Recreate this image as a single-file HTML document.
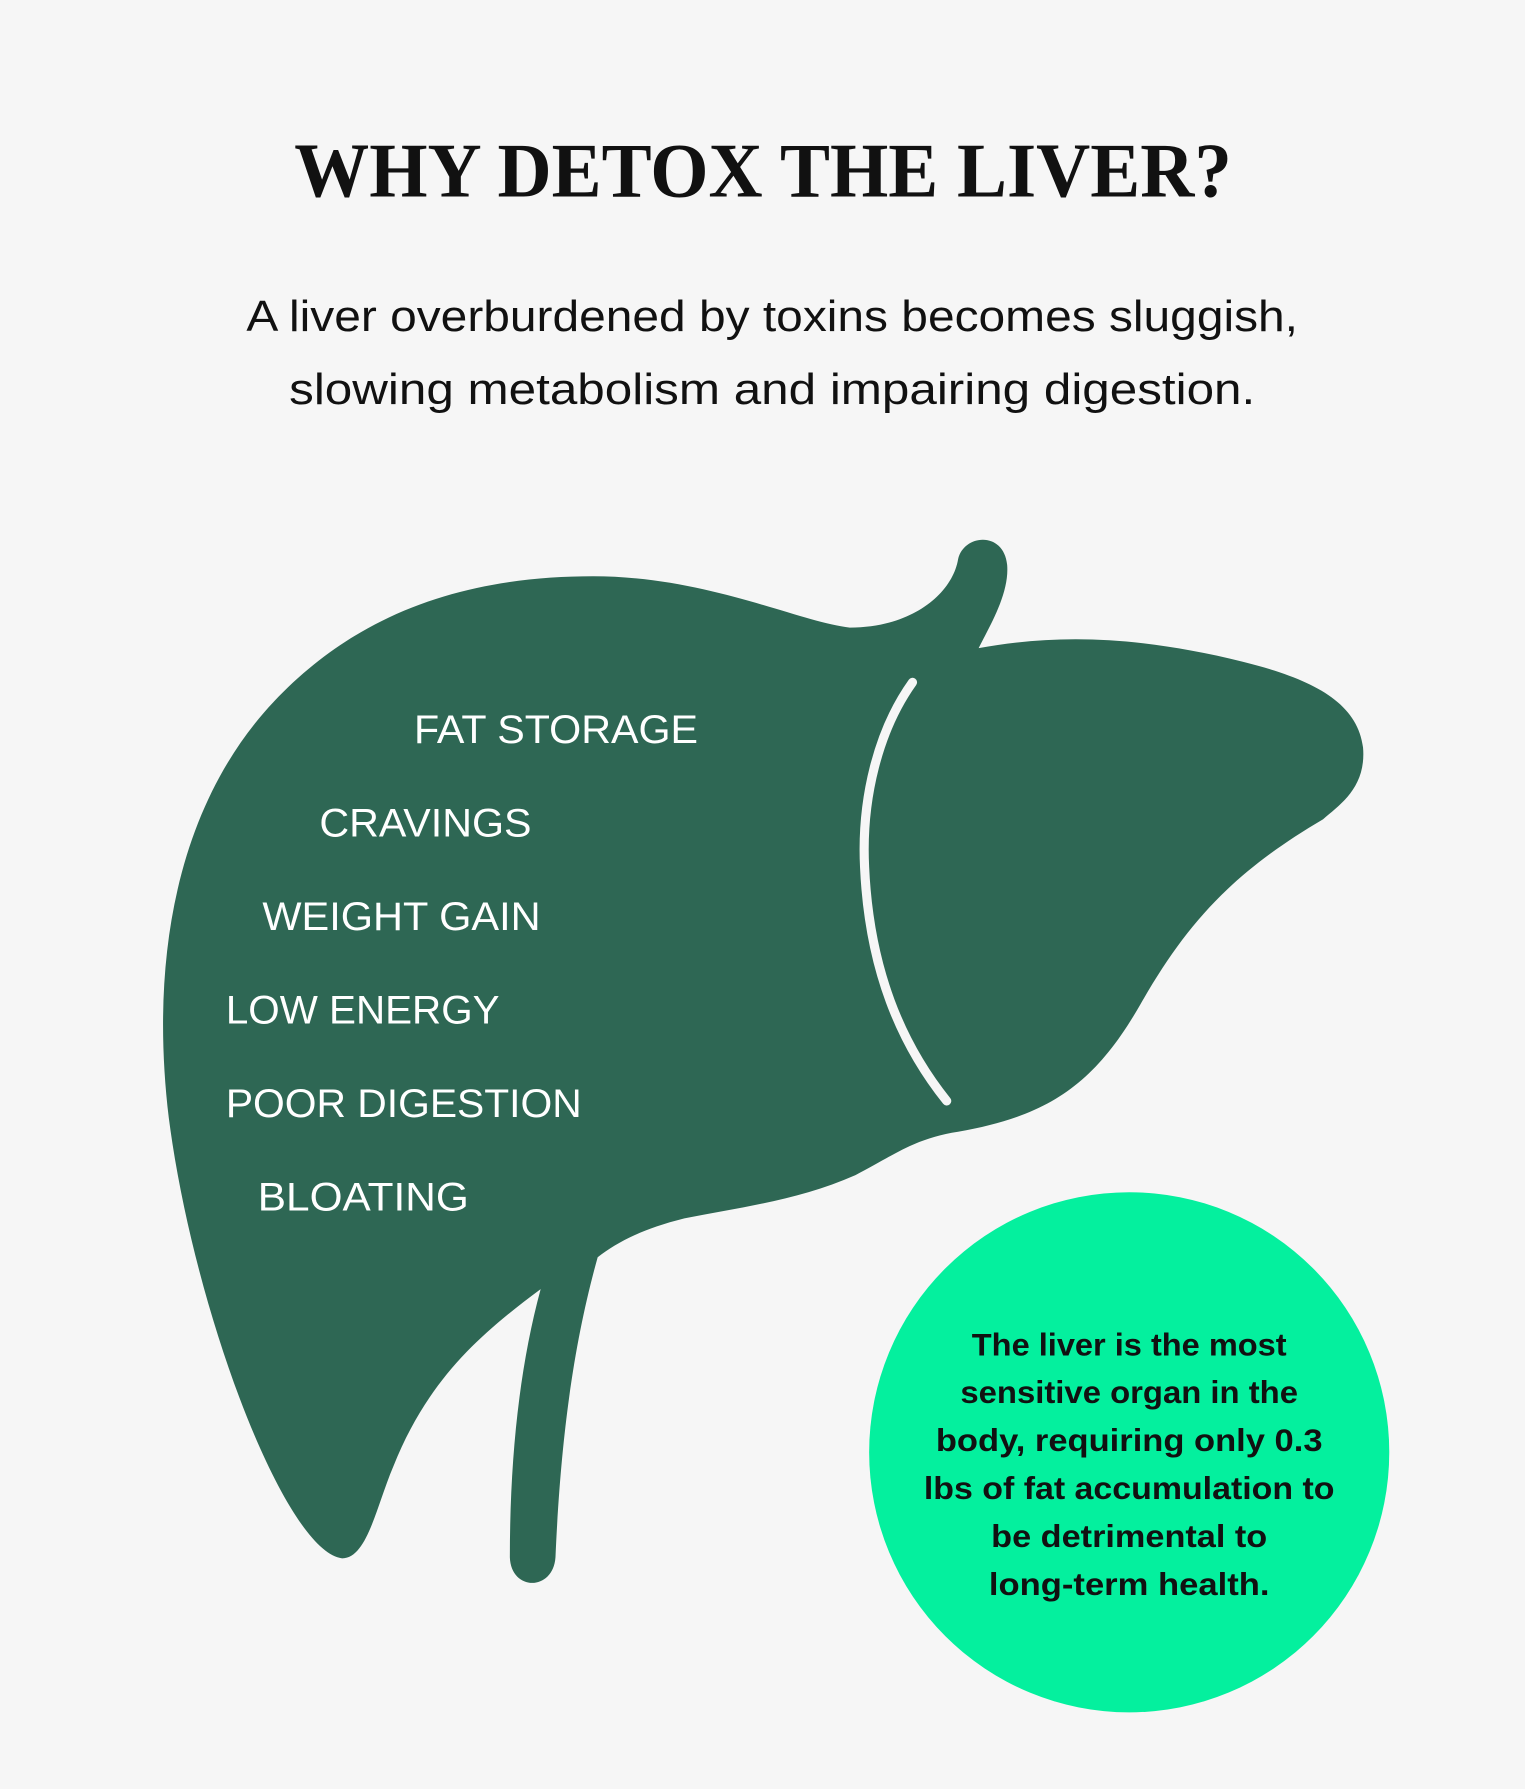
<!DOCTYPE html>
<html><head><meta charset="utf-8"><style>
html,body{margin:0;padding:0;background:#f6f6f6;}
svg{display:block;}
</style></head><body>
<svg width="1525" height="1789" viewBox="0 0 1337 1568" xmlns="http://www.w3.org/2000/svg">
<rect width="1337" height="1568" fill="#f6f6f6"/>
<text x="669" y="172" text-anchor="middle" font-family="Liberation Serif, serif" font-weight="bold" font-size="68" fill="#111" textLength="822" lengthAdjust="spacingAndGlyphs">WHY DETOX THE LIVER?</text>
<text x="677" y="290" text-anchor="middle" font-family="Liberation Sans, sans-serif" font-size="38" fill="#111" textLength="922" lengthAdjust="spacingAndGlyphs">A liver overburdened by toxins becomes sluggish,</text>
<text x="677" y="354" text-anchor="middle" font-family="Liberation Sans, sans-serif" font-size="38" fill="#111" textLength="847" lengthAdjust="spacingAndGlyphs">slowing metabolism and impairing digestion.</text>
<path fill="#2e6754" d="M300 1366 C250 1360 170 1150 148 980 C130 830 160 700 240 615 C320 530 420 505 520 505 C620 505 700 545 745 550 C800 550 835 520 840 490 C845 468 880 465 883 495 C885 520 868 548 858 568 C930 555 1000 558 1090 580 C1150 595 1190 615 1195 655 C1198 690 1175 705 1160 718 C1080 765 1040 810 1000 880 C960 950 920 978 840 992 C800 998 780 1015 750 1030 C700 1052 650 1058 600 1068 C560 1078 540 1090 524 1102 C505 1170 492 1250 487 1365 C485 1395 448 1395 447 1365 C447 1280 455 1200 474 1130 C420 1170 375 1210 345 1285 C330 1320 322 1366 300 1366 Z"/>
<path d="M800 598 C770 640 755 700 758 760 C762 850 790 915 830 965" fill="none" stroke="#f6f6f6" stroke-width="8" stroke-linecap="round"/>
<g font-family="Liberation Sans, sans-serif" font-size="35" fill="#fff">
<text x="363" y="651" textLength="249" lengthAdjust="spacingAndGlyphs">FAT STORAGE</text>
<text x="280" y="733" textLength="186" lengthAdjust="spacingAndGlyphs">CRAVINGS</text>
<text x="230" y="815" textLength="244" lengthAdjust="spacingAndGlyphs">WEIGHT GAIN</text>
<text x="198" y="897" textLength="240" lengthAdjust="spacingAndGlyphs">LOW ENERGY</text>
<text x="198" y="979" textLength="312" lengthAdjust="spacingAndGlyphs">POOR DIGESTION</text>
<text x="226" y="1061" textLength="185" lengthAdjust="spacingAndGlyphs">BLOATING</text>
</g>
<circle cx="990" cy="1273" r="228" fill="#04f09e"/>
<g font-family="Liberation Sans, sans-serif" font-weight="bold" font-size="28" fill="#111" text-anchor="middle">
<text x="990" y="1188" textLength="276" lengthAdjust="spacingAndGlyphs">The liver is the most</text>
<text x="990" y="1230" textLength="296" lengthAdjust="spacingAndGlyphs">sensitive organ in the</text>
<text x="990" y="1272" textLength="339" lengthAdjust="spacingAndGlyphs">body, requiring only 0.3</text>
<text x="990" y="1314" textLength="360" lengthAdjust="spacingAndGlyphs">lbs of fat accumulation to</text>
<text x="990" y="1356" textLength="242" lengthAdjust="spacingAndGlyphs">be detrimental to</text>
<text x="990" y="1398" textLength="246" lengthAdjust="spacingAndGlyphs">long-term health.</text>
</g>
</svg>
</body></html>
